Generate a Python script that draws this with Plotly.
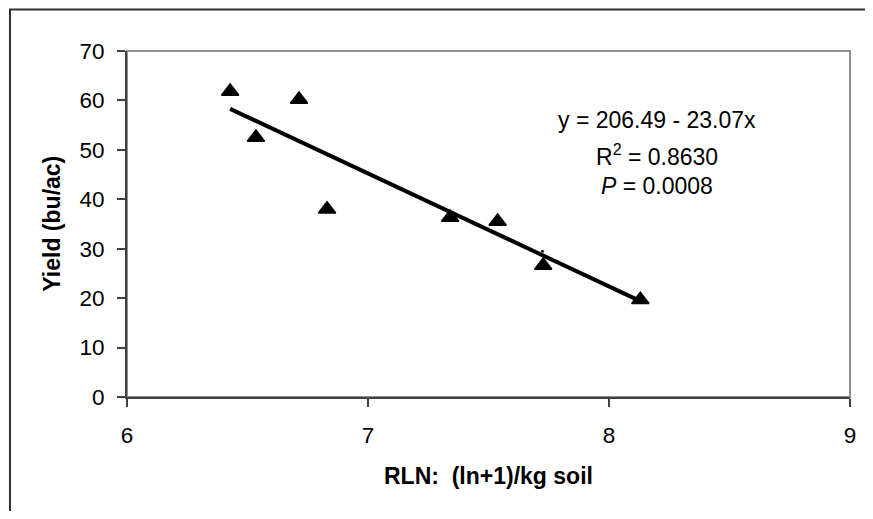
import plotly.graph_objects as go

# Data
rln = [6.428, 6.535, 6.714, 6.830, 7.341, 7.538, 7.727, 8.130]
yield_bu = [61.8, 52.5, 60.2, 38.0, 36.3, 35.5, 26.6, 19.7]

trend_x = [6.428, 8.130]
trend_y = [58.3, 19.4]

stray_x = [7.724]
stray_y = [29.5]

x_ticks = [6, 7, 8, 9]
y_ticks = [0, 10, 20, 30, 40, 50, 60, 70]

eq_lines = ["y = 206.49 - 23.07x", "R<sup>2</sup> = 0.8630", "<i>P</i> = 0.0008"]

FONT = "Liberation Sans, Arial, sans-serif"
AX = "#404040"

# The page body has an 8px margin, so the figure starts at (8, 8) on screen.
OFF = 8
W, H = 873 - 2 * OFF, 519 - 2 * OFF
# target plot area on screen: x 127..856, y 51..397
L = 127 - OFF
T = 51 - OFF
R = W - (856 - OFF)
B = H - (397 - OFF)
pw, ph = W - L - R, H - T - B

def px(xs):
    """screen x -> paper x"""
    return (xs - OFF - L) / pw

def py(ys):
    """screen y -> paper y"""
    return (H - B - (ys - OFF)) / ph

fig = go.Figure()
fig.add_trace(go.Scatter(
    x=trend_x, y=trend_y, mode="lines",
    line=dict(color="black", width=4), showlegend=False, hoverinfo="skip"))
fig.add_trace(go.Scatter(
    x=rln, y=yield_bu, mode="markers",
    marker=dict(symbol="triangle-up", size=15, color="black",
                line=dict(color="black", width=1.5)),
    showlegend=False))
fig.add_trace(go.Scatter(
    x=stray_x, y=stray_y, mode="markers",
    marker=dict(symbol="circle", size=3, color="black"),
    showlegend=False, hoverinfo="skip"))

fig.update_layout(
    width=W, height=H, autosize=False,
    margin=dict(l=L, r=R, t=T, b=B, pad=0),
    paper_bgcolor="white", plot_bgcolor="white",
    font=dict(family=FONT, size=22, color="black"),
    xaxis=dict(range=[6, 9], tickvals=x_ticks, showgrid=False, zeroline=False,
               showline=True, linecolor=AX, linewidth=2,
               ticks="outside", ticklen=8, tickcolor=AX, tickwidth=1.5,
               tickfont=dict(size=22.5, family=FONT), ticklabelstandoff=9),
    yaxis=dict(range=[0, 70], tickvals=y_ticks, showgrid=False, zeroline=False,
               showline=True, linecolor=AX, linewidth=2,
               ticks="outside", ticklen=8, tickcolor=AX, tickwidth=1.5,
               tickfont=dict(size=22.5, family=FONT), ticklabelstandoff=8),
    shapes=[
        # plot area border (grey top/right)
        dict(type="rect", xref="paper", yref="paper", x0=0, x1=1, y0=0, y1=1,
             line=dict(color="#909090", width=2), layer="below"),
        # outer chart border (right/bottom edges fall outside the picture)
        dict(type="rect", xref="paper", yref="paper",
             x0=px(9), x1=px(900), y0=py(560), y1=py(9.5),
             line=dict(color="#303030", width=2), layer="below"),
    ],
)

ann = []
for txt, ys in zip(eq_lines, [120, 155, 186]):
    ann.append(dict(text=txt, xref="paper", yref="paper", x=px(661), y=py(ys),
                    xanchor="center", yanchor="middle", showarrow=False,
                    font=dict(size=23, family=FONT, color="black")))
ann.append(dict(text="<b>RLN:  (ln+1)/kg soil</b>", xref="paper", yref="paper",
                x=px(491), y=py(476), xanchor="center", yanchor="middle", showarrow=False,
                font=dict(size=23, family=FONT, color="black")))
ann.append(dict(text="<b>Yield (bu/ac)</b>", xref="paper", yref="paper",
                x=px(51), y=py(224), xanchor="center", yanchor="middle", showarrow=False,
                textangle=-90, font=dict(size=23, family=FONT, color="black")))
fig.update_layout(annotations=ann)

fig.write_html("out.html")
